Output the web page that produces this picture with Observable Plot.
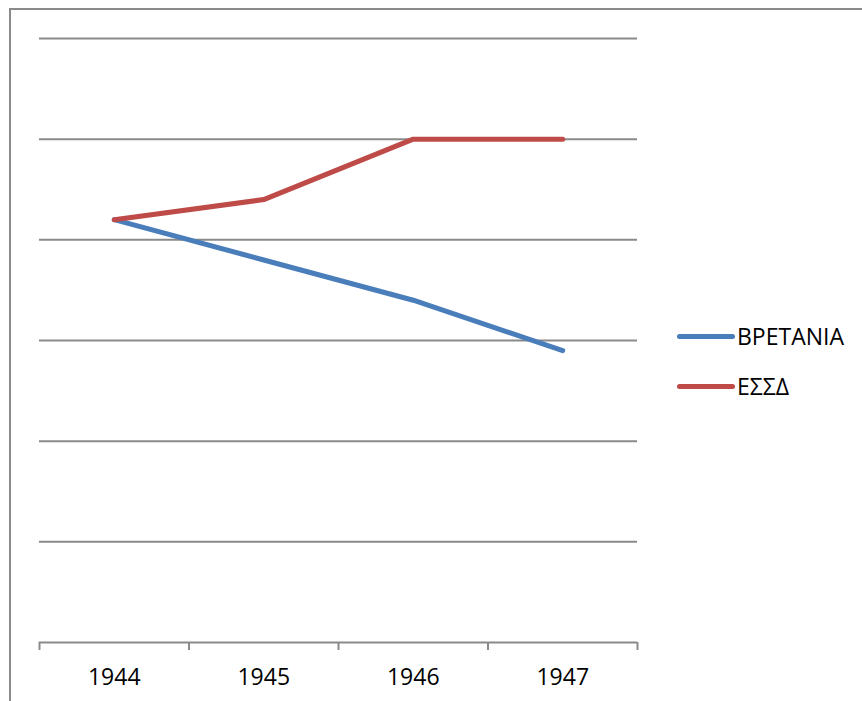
<!DOCTYPE html>
<html>
<head>
<meta charset="utf-8">
<script src="https://cdn.jsdelivr.net/npm/d3@7"></script>
<script src="https://cdn.jsdelivr.net/npm/@observablehq/plot@0.6"></script>
<style>
  html, body { margin: 0; padding: 0; background: #fff; }
  #wrap { position: relative; width: 862px; height: 701px; overflow: hidden; font-family: "Open Sans", sans-serif; }
  #frame { position: absolute; left: 9px; top: 8px; width: 900px; height: 800px; border-top: 2px solid #8a8a8a; border-left: 2px solid #8a8a8a; box-sizing: border-box; }
  #chart { position: absolute; left: 0; top: 0; }
  #legend { position: absolute; left: 677px; top: 311px; font-size: 23px; color: #000; }
  .item { display: flex; align-items: center; height: 50px; line-height: 1; }
  .sw { width: 58px; height: 5px; border-radius: 3px; margin-right: 2px; }
</style>
</head>
<body>
<div id="wrap">
  <div id="frame"></div>
  <div id="chart"></div>
  <div id="legend"></div>
</div>
<script>
const years = [1944, 1945, 1946, 1947];
const seriesNames = ["ΒΡΕΤΑΝΙΑ", "ΕΣΣΔ"];
const britain = [4.2, 3.8, 3.4, 2.9];
const ussr = [4.2, 4.4, 5.0, 5.0];
const colors = ["#4A7EBB", "#BE4B48"];
const gridValues = [0, 1, 2, 3, 4, 5, 6];

const data = [];
years.forEach((y, i) => data.push({year: y, value: britain[i], series: seriesNames[0]}));
years.forEach((y, i) => data.push({year: y, value: ussr[i], series: seriesNames[1]}));

const bounds = years.map(y => y - 0.5).concat([years[years.length - 1] + 0.5]);

const chart = Plot.plot({
  width: 862,
  height: 701,
  marginLeft: 39,
  marginRight: 225,
  marginTop: 38,
  marginBottom: 59,
  style: { fontFamily: "Open Sans, sans-serif", fontSize: "23px", color: "#000", background: "transparent" },
  x: { type: "linear", domain: [bounds[0], bounds[bounds.length - 1]], label: null },
  y: { domain: [0, 6], axis: null },
  color: { domain: seriesNames, range: colors },
  marks: [
    Plot.ruleY(gridValues, { stroke: "#8a8a8a", strokeWidth: 2, strokeOpacity: 1 }),
    Plot.axisX({ ticks: bounds, tickSize: 8, tickFormat: () => "", label: null, stroke: "#8a8a8a", strokeWidth: 2, strokeOpacity: 1 }),
    Plot.axisX({ ticks: years, tickSize: 0, tickPadding: 26, label: null, tickFormat: d => String(d), fill: "#000", fontSize: 23 }),
    Plot.line(data, { x: "year", y: "value", z: "series", stroke: "series", strokeWidth: 5, strokeLinecap: "round", strokeLinejoin: "round" })
  ]
});
document.getElementById("chart").appendChild(chart);

const legend = document.getElementById("legend");
seriesNames.forEach((name, i) => {
  const item = document.createElement("div");
  item.className = "item";
  const sw = document.createElement("span");
  sw.className = "sw";
  sw.style.background = colors[i];
  const t = document.createElement("span");
  t.textContent = name;
  item.appendChild(sw);
  item.appendChild(t);
  legend.appendChild(item);
});
</script>
</body>
</html>
